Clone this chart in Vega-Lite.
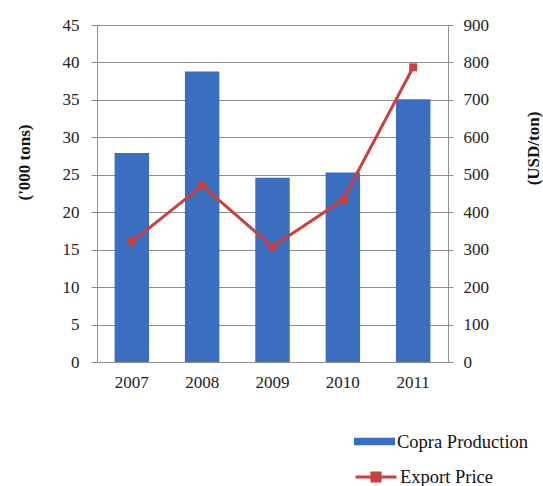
{
  "$schema": "https://vega.github.io/schema/vega-lite/v6.json",
  "autosize": "none",
  "width": 351,
  "height": 337,
  "padding": {"left": 97, "top": 25, "right": 95, "bottom": 124},
  "background": "white",
  "title": {
    "text": "Source: CEMA",
    "orient": "bottom",
    "anchor": "start",
    "frame": "group",
    "font": "Liberation Serif",
    "fontSize": 19,
    "fontWeight": "normal",
    "color": "#000",
    "dx": -87,
    "offset": -3
  },
  "config": {
    "view": {"stroke": "#8f8f8f"},
    "legend": {"padding": 0}
  },
  "data": {
    "values": [
      {"year": "2007", "production": 27.9, "price": 321, "s1": "Copra Production", "s2": "Export Price"},
      {"year": "2008", "production": 38.8, "price": 471, "s1": "Copra Production", "s2": "Export Price"},
      {"year": "2009", "production": 24.6, "price": 308, "s1": "Copra Production", "s2": "Export Price"},
      {"year": "2010", "production": 25.3, "price": 433, "s1": "Copra Production", "s2": "Export Price"},
      {"year": "2011", "production": 35.1, "price": 787, "s1": "Copra Production", "s2": "Export Price"}
    ]
  },
  "encoding": {
    "x": {
      "field": "year",
      "type": "ordinal",
      "scale": {"paddingInner": 0.51, "paddingOuter": 0.25},
      "axis": {
        "title": null,
        "labelAngle": 0,
        "ticks": false,
        "labelPadding": 12,
        "labelFont": "Liberation Serif",
        "labelFontSize": 17,
        "labelColor": "#222",
        "domainColor": "#8f8f8f",
        "grid": false
      }
    }
  },
  "layer": [
    {
      "mark": {"type": "bar"},
      "encoding": {
        "y": {
          "field": "production",
          "type": "quantitative",
          "scale": {"domain": [0, 45]},
          "axis": {
            "orient": "left",
            "values": [0, 5, 10, 15, 20, 25, 30, 35, 40, 45],
            "title": "('000 tons)",
            "titleFont": "Liberation Serif",
            "titleFontSize": 17,
            "titleFontWeight": "bold",
            "titleColor": "#111",
            "titleAngle": 270,
            "titleAlign": "center",
            "titleBaseline": "middle",
            "titleX": -73,
            "titleY": 137,
            "grid": true,
            "gridColor": "#8f8f8f",
            "domainColor": "#8f8f8f",
            "tickColor": "#8f8f8f",
            "tickSize": 6,
            "labelPadding": 12,
            "labelFont": "Liberation Serif",
            "labelFontSize": 17,
            "labelColor": "#222"
          }
        },
        "fill": {
          "field": "s1",
          "type": "nominal",
          "scale": {"range": ["#3C6EBF"]},
          "legend": {
            "title": null,
            "orient": "none",
            "legendX": 257,
            "legendY": 396,
            "symbolType": "M-1,-0.18H1V0.18H-1Z",
            "symbolSize": 1681,
            "symbolStrokeWidth": 0,
            "labelFont": "Liberation Serif",
            "labelFontSize": 18.5,
            "labelColor": "#111",
            "labelOffset": 2
          }
        }
      }
    },
    {
      "mark": {"type": "line", "strokeWidth": 3},
      "encoding": {
        "y": {
          "field": "price",
          "type": "quantitative",
          "scale": {"domain": [0, 900]},
          "axis": {
            "orient": "right",
            "values": [0, 100, 200, 300, 400, 500, 600, 700, 800, 900],
            "title": "(USD/ton)",
            "titleFont": "Liberation Serif",
            "titleFontSize": 17,
            "titleFontWeight": "bold",
            "titleColor": "#111",
            "titleAngle": 270,
            "titleAlign": "center",
            "titleBaseline": "middle",
            "titleX": 85,
            "titleY": 123,
            "grid": false,
            "domainColor": "#8f8f8f",
            "tickColor": "#8f8f8f",
            "tickSize": 5,
            "labelPadding": 10,
            "labelFont": "Liberation Serif",
            "labelFontSize": 17,
            "labelColor": "#222"
          }
        },
        "stroke": {
          "field": "s2",
          "type": "nominal",
          "scale": {"range": ["#C8403F"]},
          "legend": {
            "title": null,
            "orient": "none",
            "legendX": 257,
            "legendY": 430,
            "symbolType": "M-1,0H1M-0.2,-0.2H0.2V0.2H-0.2Z",
            "symbolSize": 1681,
            "symbolStrokeWidth": 3,
            "symbolFillColor": "#C8403F",
            "labelFont": "Liberation Serif",
            "labelFontSize": 18.5,
            "labelColor": "#111",
            "labelOffset": 2
          }
        }
      }
    },
    {
      "mark": {"type": "point", "shape": "square", "size": 64, "filled": true, "opacity": 1, "color": "#C8403F"},
      "encoding": {
        "y": {"field": "price", "type": "quantitative", "scale": {"domain": [0, 900]}, "axis": null}
      }
    }
  ],
  "resolve": {"scale": {"y": "independent"}}
}
